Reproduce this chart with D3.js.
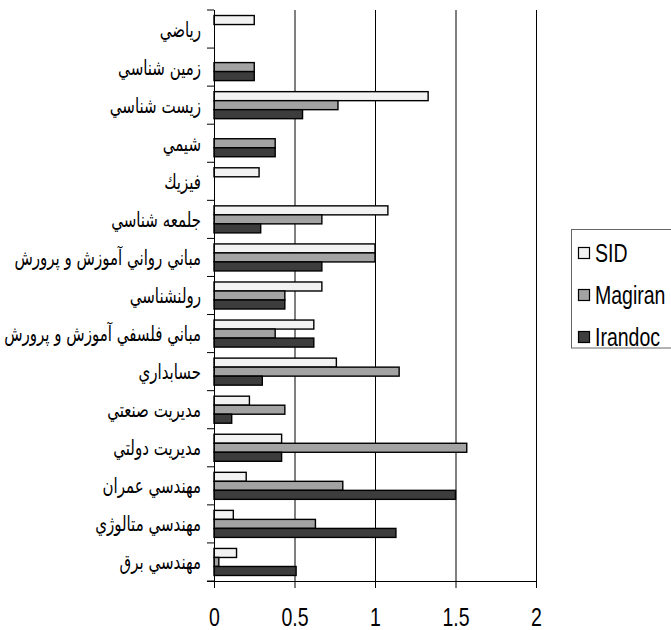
<!DOCTYPE html>
<html lang="fa">
<head>
<meta charset="UTF-8">
<title>SID / Magiran / Irandoc</title>
<style>

body {
	margin: 0;
	background: #fff;
}

svg {
	display: block;
}

.num {
	font-family: "Liberation Sans", Arial, sans-serif;
	font-size: 25px;
	fill: #000;
}

.cat {
	font-family: "DejaVu Sans", sans-serif;
	font-size: 21px;
	fill: #000;
}

</style>
</head>
<body>

<div id="chart"></div>

<script src="https://cdn.jsdelivr.net/npm/d3@7/dist/d3.min.js"></script>
<script>

const categories = [
	"رياضي",
	"زمين شناسي",
	"زيست شناسي",
	"شيمي",
	"فيزيك",
	"جلمعه شناسي",
	"مباني رواني آموزش و پرورش",
	"رولنشناسي",
	"مباني فلسفي آموزش و پرورش",
	"حسابداري",
	"مديريت صنعتي",
	"مديريت دولتي",
	"مهندسي عمران",
	"مهندسي متالوژي",
	"مهندسي برق"
];

const seriesNames = ["SID", "Magiran", "Irandoc"];

const sidValues     = [0.25, 0,    1.33, 0,    0.28, 1.08, 1.00, 0.67, 0.62, 0.76, 0.22, 0.42, 0.20, 0.12, 0.14];
const magiranValues = [0,    0.25, 0.77, 0.38, 0,    0.67, 1.00, 0.44, 0.38, 1.15, 0.44, 1.57, 0.80, 0.63, 0.03];
const irandocValues = [0,    0.25, 0.55, 0.38, 0,    0.29, 0.67, 0.44, 0.62, 0.30, 0.11, 0.42, 1.50, 1.13, 0.51];

const xTicks = [0, 0.5, 1, 1.5, 2];

const colors = ["#f2f2f2", "#a3a3a3", "#3d3d3d"];

const width = 671;
const height = 630;
const plotLeft = 214, plotRight = 536, plotTop = 10, plotBottom = 581;
const squeeze = 0.78; // the picture's text is horizontally condensed

const allValues = [sidValues, magiranValues, irandocValues];
const rows = categories.map((c, i) => ({
	cat: c,
	bars: seriesNames.map((s, j) => ({ series: s, value: allValues[j][i], idx: j }))
}));

const svg = d3.select("#chart").append("svg")
	.attr("width", width)
	.attr("height", height);

const x = d3.scaleLinear().domain([0, 2]).range([plotLeft, plotRight]);

const y = d3.scaleBand()
	.domain(categories)
	.range([plotTop, plotBottom])
	.paddingInner(0.29)
	.paddingOuter(0.145);

const ySeries = d3.scaleBand()
	.domain(seriesNames)
	.range([0, y.bandwidth()]);

// vertical gridlines
svg.append("g")
	.selectAll("line")
	.data(xTicks.filter(d => d > 0))
	.join("line")
	.attr("x1", d => x(d) + 0.5)
	.attr("x2", d => x(d) + 0.5)
	.attr("y1", plotTop)
	.attr("y2", plotBottom)
	.attr("stroke", "#000")
	.attr("stroke-width", 1);

// bars
const groups = svg.append("g")
	.selectAll("g")
	.data(rows)
	.join("g")
	.attr("transform", d => `translate(0,${y(d.cat)})`);

groups.selectAll("rect")
	.data(d => d.bars.filter(b => b.value > 0))
	.join("rect")
	.attr("x", x(0))
	.attr("y", d => ySeries(d.series))
	.attr("width", d => x(d.value) - x(0))
	.attr("height", ySeries.bandwidth())
	.attr("fill", d => colors[d.idx])
	.attr("stroke", "#000")
	.attr("stroke-width", 1.4);

// category axis (ticks between categories)
const boundaries = d3.range(categories.length + 1).map(i => plotTop + i * (plotBottom - plotTop) / categories.length);

svg.append("g")
	.selectAll("line")
	.data(boundaries)
	.join("line")
	.attr("x1", plotLeft - 7)
	.attr("x2", plotLeft)
	.attr("y1", d => d)
	.attr("y2", d => d)
	.attr("stroke", "#000");

svg.append("line")
	.attr("x1", plotLeft + 0.5)
	.attr("x2", plotLeft + 0.5)
	.attr("y1", plotTop)
	.attr("y2", plotBottom)
	.attr("stroke", "#000");

const catLabels = svg.append("g")
	.selectAll("g")
	.data(categories)
	.join("g")
	.attr("transform", d => `translate(201,${y(d) + y.bandwidth() / 2 + 7.5})`);

catLabels.append("text")
	.attr("class", "cat")
	.attr("text-anchor", "end")
	.text(d => d);

// condense the labels so the longest still fits left of the axis
let longest = 0;
catLabels.selectAll("text").each(function() {
	longest = Math.max(longest, this.getComputedTextLength());
});
const catScale = longest > 0 ? 197 / longest : 1;
catLabels.selectAll("text").attr("transform", `scale(${catScale},1)`);

// value axis
const xAxis = d3.axisBottom(x)
	.tickValues(xTicks)
	.tickFormat(d3.format("~g"))
	.tickSize(7)
	.tickPadding(20);

const gx = svg.append("g")
	.attr("transform", `translate(0,${plotBottom})`)
	.call(xAxis);

gx.select(".domain")
	.attr("d", `M${plotLeft - 7},0.5H${plotRight}`)
	.attr("stroke", "#000");

gx.selectAll(".tick line").attr("stroke", "#000");

gx.selectAll(".tick text")
	.attr("class", "num")
	.attr("font-size", null)
	.attr("font-family", null)
	.attr("transform", `scale(${squeeze},1)`);

// legend
const legend = svg.append("g").attr("transform", "translate(571,229.5)");

legend.append("rect")
	.attr("x", 0.5)
	.attr("y", 0)
	.attr("width", 100)
	.attr("height", 118.5)
	.attr("fill", "#fff")
	.attr("stroke", "#666");

const items = legend.selectAll("g.item")
	.data(seriesNames)
	.join("g")
	.attr("class", "item")
	.attr("transform", (d, i) => `translate(0,${23.5 + i * 42})`);

items.append("rect")
	.attr("x", 7.5)
	.attr("y", -5.5)
	.attr("width", 11)
	.attr("height", 11)
	.attr("fill", (d, i) => colors[i])
	.attr("stroke", "#000")
	.attr("stroke-width", 1.2);

items.append("g")
	.attr("transform", "translate(24,9)")
	.append("text")
	.attr("class", "num")
	.attr("transform", `scale(${squeeze},1)`)
	.text(d => d);

</script>
</body>
</html>
